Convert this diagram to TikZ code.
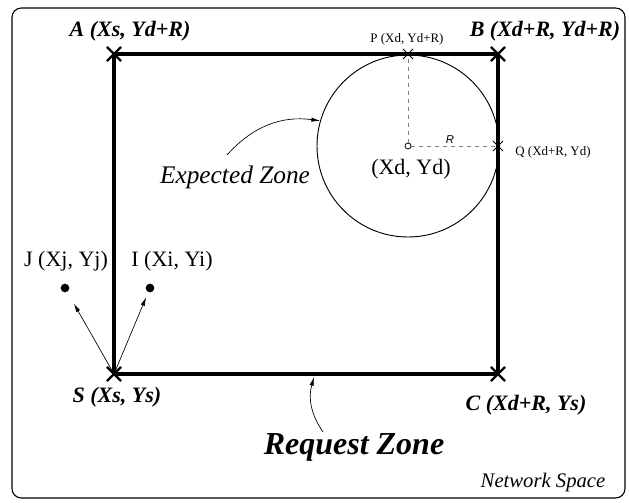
\documentclass[tikz,border=0pt]{standalone}
\usepackage{fontspec}
\setmainfont{Liberation Serif}
\newfontfamily\sansR{Liberation Sans}
\usetikzlibrary{arrows.meta,shapes.misc}
\begin{document}
\begin{tikzpicture}[x=0.75pt,y=-0.75pt,
  bigcross/.style={cross out, draw, line width=1.6pt, minimum size=9pt, inner sep=0pt},
  thincross/.style={cross out, draw, line width=0.6pt, minimum size=7pt, inner sep=0pt},
  bilabel/.style={font=\fontsize{16.5}{18}\selectfont\bfseries\itshape, inner sep=0pt},
  smalllabel/.style={font=\fontsize{9.7}{11}\selectfont, inner sep=0pt},
  midlabel/.style={font=\fontsize{16.5}{18}\selectfont, inner sep=0pt},
  zone/.style={line width=2.3pt},
  ptr/.style={line width=0.5pt, -{Latex[length=6.5pt,width=3.2pt]}},
  guide/.style={dashed, gray, line width=0.7pt},
  dot/.style={circle, fill, inner sep=0pt, minimum size=6.5pt}]
\useasboundingbox (0,0) rectangle (629,503);
% outer frame
\draw[line width=0.8pt, rounded corners=7pt] (12,8) rectangle (625,498);
% corners
\coordinate (A) at (114,54);
\coordinate (B) at (498,54);
\coordinate (C) at (498,374);
\coordinate (S) at (114,374);
\draw[zone] (A) -- (B) -- (C) -- (S) -- cycle;
\node[bigcross] (Ax) at (A) {};
\node[bigcross] (Bx) at (B) {};
\node[bigcross] (Cx) at (C) {};
\node[bigcross] (Sx) at (S) {};
% expected zone
\node[circle, draw, line width=0.7pt, minimum size=136.5pt, inner sep=0pt] (EZ) at (408,146) {};
\coordinate (P) at (408,54);
\coordinate (Q) at (498,146);
\node[circle, draw, line width=0.6pt, fill=white, inner sep=0pt, minimum size=4.5pt] (D) at (408,146) {};
\draw[guide] (D) -- (P);
\draw[guide] (D) -- (Q);
\node[thincross] (Px) at (P) {};
\node[thincross] (Qx) at (Q) {};
% labels
\node[bilabel] (Alab) at (130,31) {A (Xs, Yd+R)};
\node[bilabel] (Blab) at (545,31) {B (Xd+R, Yd+R)};
\node[bilabel] (Slab) at (117,397) {S (Xs, Ys)};
\node[bilabel] (Clab) at (526,405) {C (Xd+R, Ys)};
\node[smalllabel] (Plab) at (407,39) {P (Xd, Yd+R)};
\node[smalllabel] (Qlab) at (553,152) {Q (Xd+R, Yd)};
\node[font=\sansR\itshape\fontsize{8.5}{10}\selectfont, inner sep=0pt] (Rlab) at (450,140) {R};
\node[midlabel] (Dlab) at (411,169) {(Xd, Yd)};
\node[font=\fontsize{19}{22}\selectfont\itshape, inner sep=0pt] (EZlab) at (235,177) {Expected Zone};
\node[font=\fontsize{24}{28}\selectfont\bfseries\itshape, inner sep=0pt] (RZlab) at (354,447) {Request Zone};
\node[font=\fontsize{15.5}{18}\selectfont\itshape, inner sep=0pt] (NSlab) at (543,483) {Network Space};
% neighbours
\node[dot] (J) at (65,288) {};
\node[dot] (I) at (150,288) {};
\node[midlabel] (Jlab) at (66,261) {J (Xj, Yj)};
\node[midlabel] (Ilab) at (172,261) {I (Xi, Yi)};
\draw[ptr, shorten >=10pt] (S) -- (J);
\draw[ptr, shorten >=4pt] (S) -- (I);
% pointers
\coordinate (t1) at (227,155);
\draw[ptr] (t1) to[bend left=28] (EZ.164);
\coordinate (t2) at (323,432);
\coordinate (h2) at (314,377);
\draw[ptr] (t2) to[bend left=25] (h2);
\end{tikzpicture}
\end{document}
